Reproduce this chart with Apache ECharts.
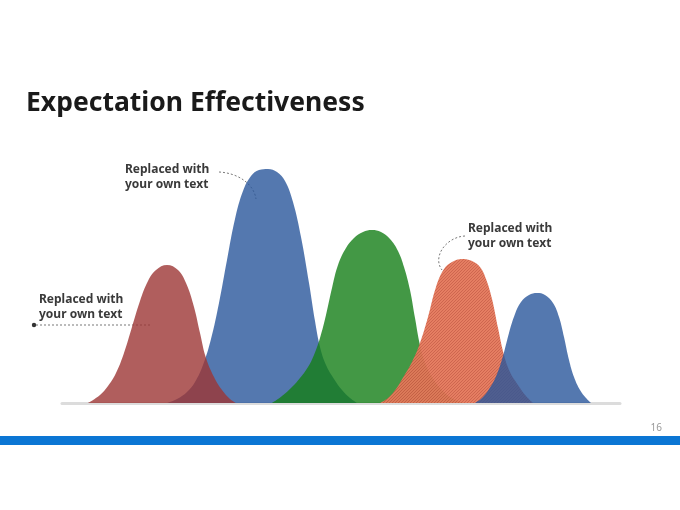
<!DOCTYPE html>
<html>
<head>
<meta charset="utf-8">
<script src="https://cdn.jsdelivr.net/npm/echarts@6/dist/echarts.min.js"></script>
<style>
  html, body { margin: 0; padding: 0; background: #fff; }
  #main { width: 680px; height: 510px; }
</style>
</head>
<body>
<div id="main"></div>
<script>
// curve outlines: [position, height]
const red = [[26,0],[38,8],[46,17],[54,30],[62,50],[70,76],[78,102],[86,122],[94,133],[105,138],
  [116,133],[124,120],[132,96],[138,70],[144,45],[152,26],[160,13],[168,4],[174,0]];
const bigBlue = [[105,0],[115,4],[125,11],[133,21],[141,38],[149,64],[157,100],[165,143],[173,184],
  [181,212],[189,227],[197,233],[206,234],[215,231],[223,222],[231,201],[239,166],[247,120],[253,82],
  [258,56],[264,38],[272,24],[280,13],[288,5],[295,0]];
const green = [[210,0],[220,7],[230,16],[238,25],[246,36],[252,48],[258,65],[264,88],[270,115],[276,138],
  [284,155],[292,165],[301,171],[310,173],[319,171],[328,164],[336,152],[342,136],[348,113],[353,85],
  [358,58],[364,38],[372,23],[380,13],[388,6],[396,2],[402,0]];
const orange = [[318,0],[326,5],[334,14],[342,27],[350,41],[358,60],[366,86],[374,116],[382,134],[390,141],
  [400,144],[410,142],[418,136],[424,124],[430,104],[436,75],[442,48],[448,31],[456,18],[464,7],[471,0]];
const smallBlue = [[413,0],[421,6],[429,17],[435,29],[441,47],[447,70],[453,89],[459,101],[467,108],
  [475,110],[483,108],[491,100],[497,86],[502,66],[507,43],[512,26],[518,13],[524,5],[529,0]];

const titleText = 'Expectation Effectiveness';
const notes = ['Replaced with\nyour own text', 'Replaced with\nyour own text', 'Replaced with\nyour own text'];
const pageNo = '16';

function hatch() {
  const c = document.createElement('canvas');
  c.width = 3; c.height = 3;
  const g = c.getContext('2d');
  g.fillStyle = 'rgb(228,120,90)';
  g.fillRect(0, 0, 3, 3);
  g.fillStyle = 'rgb(204,94,70)';
  for (let i = 0; i < 3; i++) g.fillRect(i, 2 - i, 1, 1);
  return c;
}

function bell(name, data, color, opacity) {
  return {
    name: name,
    type: 'line',
    data: data,
    smooth: 0.4,
    showSymbol: false,
    silent: true,
    lineStyle: { width: 0 },
    areaStyle: { color: color, opacity: opacity }
  };
}

const chart = echarts.init(document.getElementById('main'));
const font = '"Noto Sans", sans-serif';
const noteStyle = { fill: '#3a3a3a', font: 'bold 12px ' + font, lineHeight: 15, textVerticalAlign: 'middle' };
const dash = { stroke: '#555', lineWidth: 0.8, lineDash: [2, 2], fill: null };

chart.setOption({
  animation: false,
  backgroundColor: '#fff',
  title: {
    text: titleText,
    left: 21,
    top: 85,
    textStyle: { fontFamily: font, fontSize: 26.5, fontWeight: 'bold', color: '#1a1a1a' }
  },
  grid: { left: 62, right: 60, top: 103, bottom: 107 },
  xAxis: {
    type: 'value', min: 0, max: 558,
    axisLine: { show: true, lineStyle: { color: '#dcdcdc', width: 3 } },
    axisTick: { show: false }, axisLabel: { show: false }, splitLine: { show: false }
  },
  yAxis: { type: 'value', min: 0, max: 300, show: false },
  series: [
    bell('big blue', bigBlue, 'rgb(41,86,155)', 0.8),
    bell('red', red, 'rgb(156,54,52)', 0.8),
    bell('green', green, 'rgb(20,126,22)', 0.8),
    bell('orange', orange, { image: hatch(), repeat: 'repeat' }, 0.95),
    bell('small blue', smallBlue, 'rgb(41,86,155)', 0.8)
  ],
  graphic: [
    { type: 'text', style: Object.assign({ text: notes[0], x: 125, y: 177 }, noteStyle) },
    { type: 'text', style: Object.assign({ text: notes[1], x: 39, y: 307 }, noteStyle) },
    { type: 'text', style: Object.assign({ text: notes[2], x: 468, y: 236 }, noteStyle) },
    { type: 'bezierCurve', shape: { x1: 219, y1: 172, cpx1: 238, cpy1: 173, cpx2: 254, cpy2: 184, x2: 256, y2: 199 }, style: dash },
    { type: 'line', shape: { x1: 36, y1: 325, x2: 152, y2: 325 }, style: dash },
    { type: 'circle', shape: { cx: 34, cy: 325, r: 2.2 }, style: { fill: '#333' } },
    { type: 'bezierCurve', shape: { x1: 465, y1: 236, cpx1: 446, cpy1: 237, cpx2: 432, cpy2: 257, x2: 442, y2: 270 }, style: dash },
    { type: 'text', style: { text: pageNo, x: 662, y: 428, fill: '#999', font: '10px ' + font, textAlign: 'right', textVerticalAlign: 'middle' } },
    { type: 'rect', shape: { x: 0, y: 436, width: 680, height: 9 }, style: { fill: '#0b76d4' } }
  ]
});
</script>
</body>
</html>
